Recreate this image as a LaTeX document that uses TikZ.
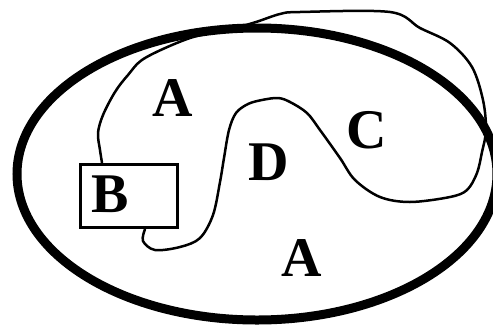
\documentclass[tikz,border=0pt]{standalone}
\usepackage{fontspec}
\setmainfont{Liberation Serif}
\begin{document}
\begin{tikzpicture}[
  x=1pt,y=-1pt,
  region/.style={line width=9pt},
  curveC/.style={line width=2.5pt,line join=round,line cap=round},
  boxstyle/.style={draw,line width=3.5pt,minimum width=97pt,minimum height=63pt,inner sep=0pt},
  letter/.style={font=\fontsize{56}{60}\selectfont\bfseries,inner sep=0pt}
]
\useasboundingbox (0,0) rectangle (493,325);

\node[boxstyle] (boxB) at (129,196) {};
\node[letter] (labB) at (110,194) {B};
\node[letter] (labA1) at (173,98) {A};
\node[letter] (labD) at (269,162) {D};
\node[letter] (labC) at (367,130) {C};
\node[letter] (labA2) at (302,258) {A};

\draw[curveC] plot[smooth,tension=0.55] coordinates {([xshift=-27pt]boxB.north)
  (100,150) (98,133) (103,115) (115,92) (128,75) (145,58) (190,38) (228,30)
  (256,22) (280,14) (300,12) (390,12) (420,28) (450,43) (472,67) (483,100)
  (486,130) (482,152) (477,173) (467,190) (450,197) (410,202) (380,197)
  (355,180) (340,158) (320,130) (307,113) (290,102) (278,98) (262,100)
  (248,104) (236,113) (229,130) (224,158) (220,182) (213,215) (200,238)
  (180,247) (155,250) (143,241) ([xshift=16pt]boxB.south)};

\draw[region] (257,174) ellipse [x radius=240,y radius=146];
\end{tikzpicture}
\end{document}
